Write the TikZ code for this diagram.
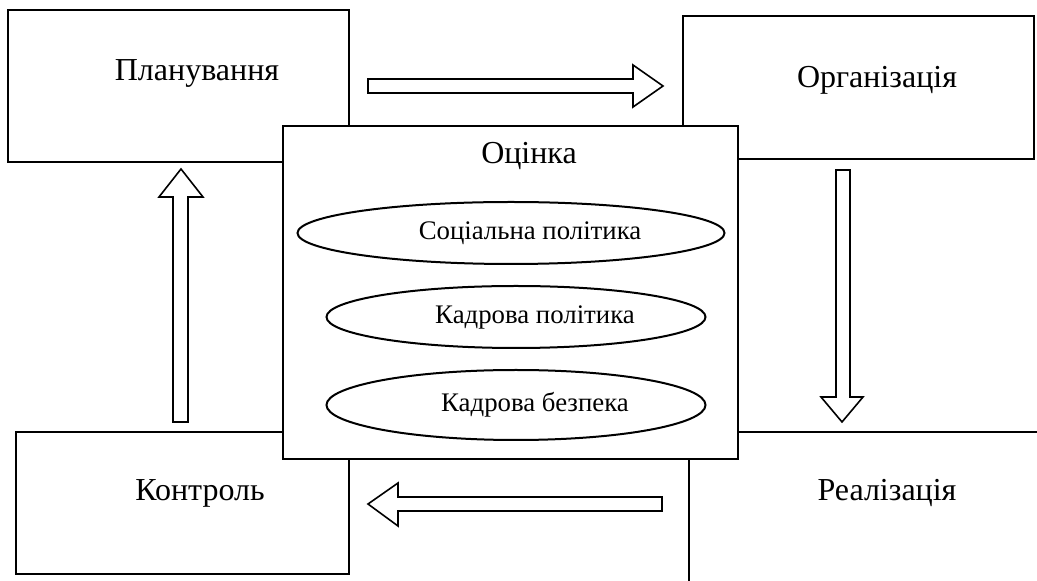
\documentclass[tikz,border=0pt]{standalone}
\usepackage{fontspec}
\setmainfont{Liberation Serif}
\usetikzlibrary{calc}

\begin{document}
\begin{tikzpicture}[x=0.5pt,y=-0.5pt,line width=1pt,line join=miter]
\tikzset{
	lbl/.style={inner sep=0pt,font=\fontsize{16}{19}\selectfont},
	small/.style={inner sep=0pt,font=\fontsize{13.4}{16}\selectfont},
	blockarrow/.style={draw,line width=0.8pt,fill=white}
}
\useasboundingbox (0,0) rectangle (1037,581);
% outer boxes
\draw (8,10) rectangle (349,162);
\draw (683,16) rectangle (1034,159);
\draw (16,432) rectangle (349,574);
\draw (1037,432) -- (689,432) -- (689,581);
\node[lbl] (plan) at (197,73) {Планування};
\node[lbl] (org) at (877,80) {Організація};
\node[lbl] (ctrl) at (200,493) {Контроль};
\node[lbl] (impl) at (887,493) {Реалізація};
% block arrows
\draw[blockarrow] (368,79) -- (633,79) -- (633,65) -- (663,86) -- (633,107) -- (633,93) -- (368,93) -- cycle;
\draw[blockarrow] (836,170) -- (850,170) -- (850,397) -- (863,397) -- (842,422) -- (821,397) -- (836,397) -- cycle;
\draw[blockarrow] (662,497) -- (662,511) -- (398,511) -- (398,526) -- (368,504) -- (398,483) -- (398,497) -- cycle;
\draw[blockarrow] (173,422) -- (188,422) -- (188,197) -- (203,197) -- (181,169) -- (159,197) -- (173,197) -- cycle;
% centre box
\draw[fill=white] (283,126) rectangle (738,459);
\node[lbl] (eval) at (529,156) {Оцінка};
\draw (511,233) ellipse [x radius=213.5, y radius=31];
\draw (516,317) ellipse [x radius=189.5, y radius=31];
\draw (516,405) ellipse [x radius=189.5, y radius=35];
\node[small] (social) at (530,233) {Соціальна політика};
\node[small] (staff) at (535,317) {Кадрова політика};
\node[small] (secur) at (535,405) {Кадрова безпека};
\end{tikzpicture}
\end{document}
